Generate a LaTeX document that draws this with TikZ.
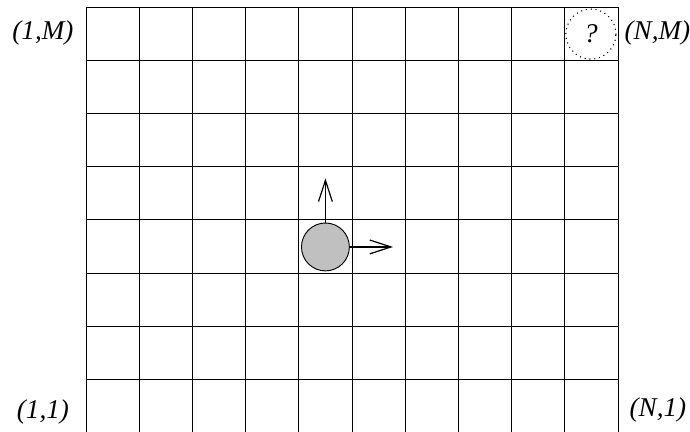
\documentclass[tikz,border=0pt]{standalone}
\usepackage{fontspec}
\setmainfont{Liberation Serif}
\usepackage{tikz}
\usetikzlibrary{arrows.meta, positioning}
\definecolor{ballgray}{RGB}{192, 192, 192}

\tikzset{
    cornerlabel/.style={font=\fontsize{14.5}{16}\selectfont\itshape},
    movearrow/.style={-{Straight Barb[length=4mm, width=2.6mm]}, line width=0.65pt},
}

\begin{document}
\begin{tikzpicture}[line width=0.5pt]
    \useasboundingbox (-1.617, 0.012) rectangle (11.353, 8.132);

    % Grid of cells
    \draw (0,0) grid (10,8);

    % Corner labels
    \node[cornerlabel] (topleft) at (-0.81, 7.51) {(1,M)};
    \node[cornerlabel] (topright) at (10.74, 7.51) {(N,M)};
    \node[cornerlabel] (bottomleft) at (-0.81, 0.38) {(1,1)};
    \node[cornerlabel] (bottomright) at (10.75, 0.43) {(N,1)};

    % Unknown target cell
    \node[circle, draw, line width=0.8pt, line cap=round, dash pattern=on 0pt off 2.6pt,
          minimum size=0.94cm, inner sep=0pt,
          font=\fontsize{14.5}{16}\selectfont\itshape] (target) at (9.49, 7.49) {?};

    % Agent and its moves
    \node[circle, draw, fill=ballgray, minimum size=0.9cm, inner sep=0pt] (agent) at (4.5, 3.49) {};
    \coordinate (up) at (4.5, 4.78);
    \coordinate (right) at (5.77, 3.49);
    \draw[movearrow] (agent.north) -- (up);
    \draw[movearrow] (agent.east) -- (right);
\end{tikzpicture}
\end{document}
